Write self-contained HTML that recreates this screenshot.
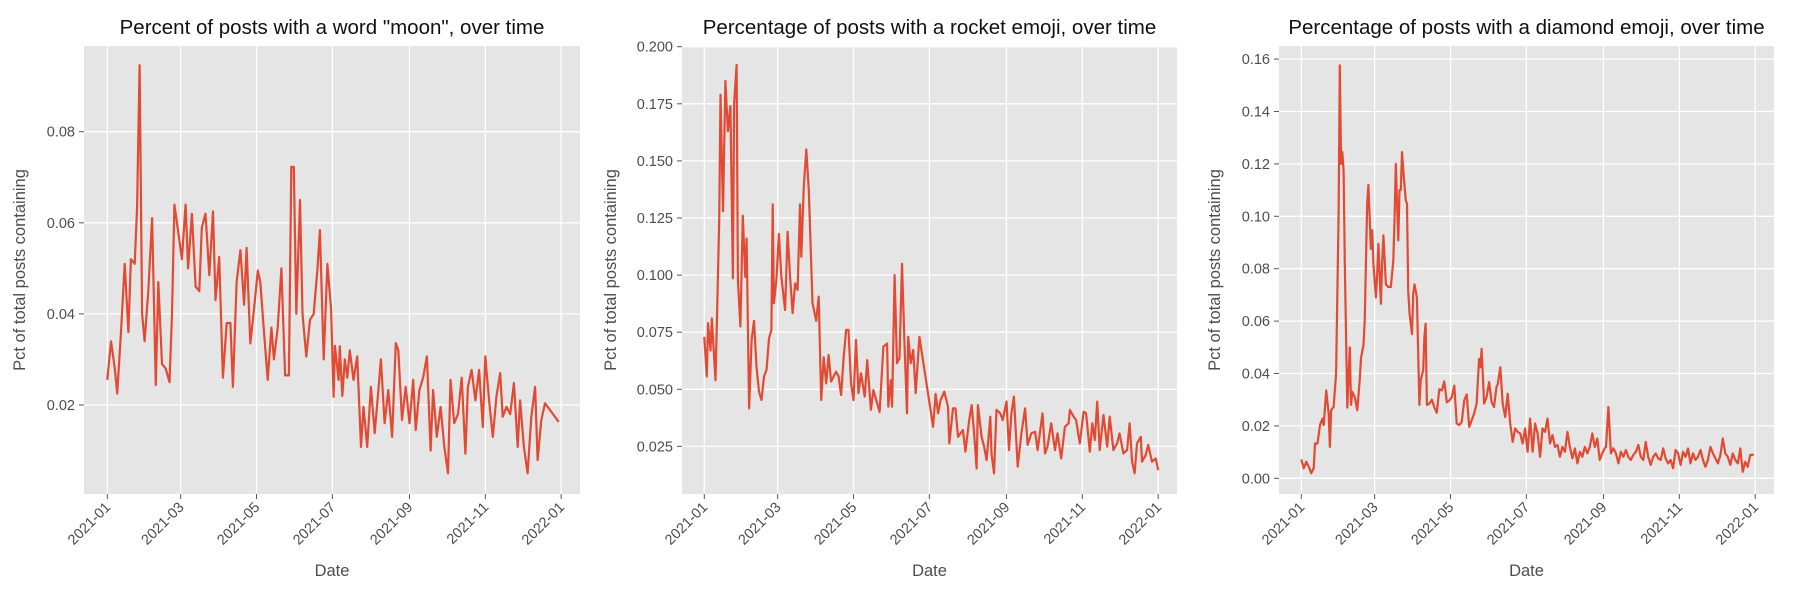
<!DOCTYPE html>
<html><head><meta charset="utf-8">
<style>
html,body{margin:0;padding:0;background:#fff;}
svg{display:block;font-family:"Liberation Sans",sans-serif;}
</style></head>
<body>
<svg id="fig" width="1800" height="600" viewBox="0 0 1800 600" xmlns="http://www.w3.org/2000/svg"></svg>
<script>
// ---------- data ----------
const tickDays = [0,59,120,181,243,304,365];
const tickLabels = ["2021-01","2021-03","2021-05","2021-07","2021-09","2021-11","2022-01"];

const titles = ['Percent of posts with a word "moon", over time','Percentage of posts with a rocket emoji, over time','Percentage of posts with a diamond emoji, over time'];

const moonYTicks = [0.02,0.04,0.06,0.08];
const moonYLabels = ["0.02","0.04","0.06","0.08"];
const moonDays = [0,3,6,8,11,14,17,19,22,24,26,28,30,33,36,39,41,44,47,50,52,54,57,60,63,65,68,71,74,76,79,82,85,87,90,93,96,99,101,104,107,110,112,115,118,121,123,126,129,132,134,137,140,143,146,148,150,152,155,157,160,163,166,169,171,174,177,180,
182,183,186,187,189,191,193,195,
198,201,204,206,209,212,215,218,220,223,226,229,232,234,237,240,243,246,248,251,254,257,260,262,265,268,271,274,276,279,282,285,288,290,293,296,299,302,304,307,310,313,316,318,321,324,327,330,332,335,338,341,344,346,349,352,363];
const moonValues = [0.0255,0.034,0.028,0.0225,0.036,0.051,0.036,0.052,0.051,0.0635,0.0946,0.040,0.034,0.045,0.061,0.0244,0.047,0.029,0.028,0.025,0.040,0.064,0.058,0.052,0.064,0.050,0.062,0.046,0.045,0.059,0.062,0.0485,0.0625,0.043,0.0525,0.026,0.038,0.038,0.024,0.047,0.054,0.042,0.0545,0.0335,0.041,0.0495,0.047,0.036,0.0255,0.037,0.030,0.037,0.050,0.0265,0.0265,0.0723,0.0723,0.040,0.065,0.040,0.0306,0.0387,0.040,0.050,0.0584,0.030,0.051,0.041,
0.0218,0.033,0.0255,0.0329,0.022,0.030,0.026,0.032,
0.0255,0.0307,0.0108,0.0196,0.0108,0.024,0.0138,0.0233,0.030,0.016,0.0233,0.013,0.0336,0.032,0.0167,0.024,0.016,0.0255,0.0145,0.0233,0.026,0.0307,0.0100,0.0233,0.013,0.0196,0.0108,0.005,0.0255,0.016,0.018,0.026,0.0093,0.024,0.0277,0.021,0.0277,0.0152,0.0307,0.021,0.013,0.022,0.027,0.0174,0.0196,0.018,0.0248,0.0108,0.021,0.0108,0.005,0.0174,0.024,0.0079,0.0167,0.0204,0.0163];

const rocketYTicks = [0.025,0.05,0.075,0.1,0.125,0.15,0.175,0.2];
const rocketYLabels = ["0.025","0.050","0.075","0.100","0.125","0.150","0.175","0.200"];
const rocketDays = [0,2,3,5,6,9,10,12,13,15,17,19,21,23,24,26,27,29,31,33,34,36,38,40,42,44,46,48,50,52,54,55,56,58,60,62,65,67,69,71,73,75,77,78,80,82,84,87,90,92,94,96,98,100,102,104,106,108,110,112,114,116,118,120,122,124,126,129,131,134,136,139,141,144,147,148,150,151,153,155,157,159,161,163,164,166,168,170,173,
184,186,188,190,193,196,197,200,202,204,208,210,213,215,217,219,220,223,225,227,230,231,233,235,238,240,243,245,247,249,252,255,258,260,263,266,268,272,274,276,279,282,284,287,290,293,294,297,299,302,305,307,310,312,314,316,318,321,324,326,329,332,334,337,340,342,344,346,348,351,352,355,357,360,363,365];
const rocketValues = [0.073,0.0556,0.079,0.067,0.081,0.054,0.076,0.124,0.179,0.128,0.185,0.163,0.174,0.0986,0.175,0.192,0.0979,0.0775,0.126,0.0992,0.116,0.0417,0.0716,0.080,0.060,0.049,0.0453,0.0556,0.0585,0.0723,0.076,0.131,0.0877,0.0979,0.118,0.099,0.0847,0.119,0.099,0.0833,0.0964,0.0935,0.131,0.108,0.139,0.155,0.137,0.0877,0.080,0.0906,0.0453,0.064,0.0526,0.065,0.0534,0.0556,0.0577,0.0556,0.0475,0.0636,0.076,0.076,0.0526,0.0453,0.0716,0.0483,0.057,0.0468,0.0628,0.041,0.0497,0.0439,0.040,0.0687,0.070,0.0424,0.054,0.0424,0.100,0.0614,0.0636,0.105,0.070,0.0395,0.073,0.0614,0.0672,0.0483,0.073,
0.0336,0.048,0.0395,0.0453,0.049,0.0424,0.0263,0.0417,0.0417,0.0292,0.0322,0.0227,0.0365,0.0431,0.0307,0.0153,0.0431,0.0292,0.0249,0.019,0.038,0.0219,0.0132,0.041,0.0395,0.0365,0.0446,0.0234,0.0395,0.0468,0.0161,0.0307,0.0417,0.0256,0.0307,0.0314,0.0234,0.0395,0.0219,0.0249,0.0351,0.0234,0.0307,0.0197,0.0336,0.0351,0.041,0.038,0.0365,0.0263,0.0402,0.0395,0.0227,0.0351,0.0278,0.0446,0.0234,0.0387,0.0249,0.038,0.0234,0.0263,0.0307,0.0219,0.0234,0.0351,0.0183,0.0132,0.0263,0.0292,0.0183,0.0212,0.0256,0.0183,0.0197,0.0146];

const diamondYTicks = [0,0.02,0.04,0.06,0.08,0.1,0.12,0.14,0.16];
const diamondYLabels = ["0.00","0.02","0.04","0.06","0.08","0.10","0.12","0.14","0.16"];
const diamondDays = [0,2,4,6,8,10,11,13,15,17,18,20,22,23,24,26,28,30,31,32,33,34,35,37,39,40,41,43,45,47,48,50,51,53,54,56,57,58,60,61,62,64,65,66,68,70,72,74,75,76,78,79,80,81,82,84,85,86,87,89,90,91,93,95,96,98,99,100,101,
103,105,107,109,111,113,115,117,119,121,123,125,127,129,131,133,135,137,139,141,143,144,145,147,149,151,153,155,157,158,
160,162,164,166,168,170,172,174,176,178,180,182,184,186,188,190,192,194,196,198,200,202,204,206,208,210,212,214,216,218,220,222,224,226,228,230,232,234,236,238,240,242,244,245,247,
249,251,253,255,257,259,261,263,265,267,269,271,273,275,277,279,281,283,285,287,289,291,293,295,297,299,301,303,305,307,309,311,313,315,317,319,321,323,325,327,329,331,333,335,337,339,341,343,345,347,349,351,353,355,357,359,361,364];
const diamondValues = [0.0072,0.0038,0.0063,0.0044,0.0019,0.0038,0.0133,0.0133,0.0203,0.0228,0.0203,0.0335,0.0247,0.012,0.026,0.0272,0.040,0.101,0.1576,0.12,0.1245,0.1175,0.082,0.027,0.050,0.028,0.033,0.031,0.026,0.0374,0.046,0.051,0.060,0.105,0.112,0.0876,0.0946,0.082,0.069,0.078,0.0895,0.0666,0.082,0.0927,0.074,0.073,0.073,0.083,0.0997,0.12,0.0908,0.11,0.11,0.1245,0.1175,0.106,0.1048,0.0717,0.063,0.055,0.0704,0.074,0.069,0.028,0.0374,0.0413,0.054,0.059,0.028,
0.0285,0.030,0.027,0.025,0.034,0.0335,0.037,0.029,0.0297,0.031,0.0354,0.0209,0.0203,0.0215,0.0297,0.032,0.0196,0.0221,0.0247,0.0285,0.0456,0.0424,0.0494,0.0285,0.031,0.0367,0.0291,0.0272,0.0348,0.036,
0.0424,0.0285,0.0234,0.0323,0.0209,0.0139,0.019,0.0177,0.0171,0.0133,0.019,0.0101,0.0228,0.0101,0.0209,0.0171,0.0082,0.019,0.0177,0.0228,0.0133,0.0165,0.012,0.0127,0.0082,0.012,0.0101,0.0177,0.012,0.0076,0.0114,0.0057,0.0101,0.0082,0.012,0.0095,0.012,0.0171,0.012,0.0152,0.007,0.0095,0.0114,0.012,0.0272,
0.0095,0.0114,0.0095,0.0057,0.0101,0.0082,0.0108,0.0082,0.007,0.0089,0.0101,0.0127,0.0082,0.007,0.0139,0.0082,0.0051,0.0082,0.0095,0.0076,0.007,0.0114,0.0076,0.0057,0.007,0.0038,0.0108,0.0095,0.0051,0.0101,0.0082,0.0114,0.0057,0.0095,0.007,0.0082,0.0108,0.007,0.0044,0.007,0.012,0.0095,0.0076,0.0057,0.0089,0.0152,0.0095,0.0082,0.0051,0.0095,0.007,0.0057,0.0114,0.0025,0.0063,0.0044,0.0089,0.009];

// ---------- drawing ----------
const NS = "http://www.w3.org/2000/svg";
const svg = document.getElementById("fig");
function mk(tag, attrs, parent){ const e=document.createElementNS(NS,tag); for(const k in attrs) e.setAttribute(k,attrs[k]); (parent||svg).appendChild(e); return e; }

const PLOT_TOP = 46, PLOT_BOT = 494;
const panels = [
  {key:"moon", left:84, right:580, x0:107.3, yVal:0.02, yPix:405, scale:4555, yt:moonYTicks, yl:moonYLabels, days:moonDays, vals:moonValues, ylabX:25},
  {key:"rocket", left:682, right:1177, x0:704.3, yVal:0.05, yPix:389.3, scale:2284, yt:rocketYTicks, yl:rocketYLabels, days:rocketDays, vals:rocketValues, ylabX:616},
  {key:"diamond", left:1279, right:1774, x0:1301.3, yVal:0, yPix:478.3, scale:2620, yt:diamondYTicks, yl:diamondYLabels, days:diamondDays, vals:diamondValues, ylabX:1220}
];
const PX_PER_DAY = 1.2435;

panels.forEach((p, i) => {
  const xs = d => p.x0 + d*PX_PER_DAY;
  const ys = v => p.yPix - (v - p.yVal)*p.scale;
  const g = mk("g", {});
  
  
  const bg = mk("rect", {x:p.left, y:PLOT_TOP, width:p.right-p.left, height:PLOT_BOT-PLOT_TOP, fill:"#e5e5e5"}, g);
  
  
  p.yt.forEach((t, j) => {
    const y = ys(t);
    const gl = mk("line", {x1:p.left, x2:p.right, y1:y, y2:y, stroke:"#fff", "stroke-width":1.3}, g);
    
    
    mk("line", {x1:p.left-5, x2:p.left, y1:y, y2:y, stroke:"#555", "stroke-width":1}, g);
    const tl = mk("text", {x:p.left-9, y:y+5, "text-anchor":"end", "font-size":14.5, fill:"#4d4d4d"}, g);
    tl.textContent = p.yl[j];
    
    
  });
  tickDays.forEach((d, j) => {
    const x = xs(d);
    const gl = mk("line", {x1:x, x2:x, y1:PLOT_TOP, y2:PLOT_BOT, stroke:"#fff", "stroke-width":1.3}, g);
    
    
    mk("line", {x1:x, x2:x, y1:PLOT_BOT, y2:PLOT_BOT+5, stroke:"#555", "stroke-width":1}, g);
    const tl = mk("text", {x:x+4, y:PLOT_BOT+14, "text-anchor":"end", "font-size":14.5, fill:"#4d4d4d", transform:`rotate(-45 ${x+4} ${PLOT_BOT+14})`}, g);
    tl.textContent = tickLabels[j];
    
    
  });
  let dstr = "";
  p.days.forEach((d, k) => { dstr += (k ? "L" : "M") + xs(d).toFixed(1) + "," + ys(p.vals[k]).toFixed(1); });
  const ln = mk("path", {d:dstr, fill:"none", stroke:"#E24A33", "stroke-width":2.2, "stroke-linejoin":"round"}, g);
  
  
  const cx = (p.left + p.right)/2;
  const tt = mk("text", {x:cx, y:34, "text-anchor":"middle", "font-size":20.5, fill:"#111"}, g);
  tt.textContent = titles[i];
  
  
  const xl = mk("text", {x:cx, y:576, "text-anchor":"middle", "font-size":16.5, fill:"#4d4d4d"}, g);
  xl.textContent = "Date";
  
  
  const ly = (PLOT_TOP+PLOT_BOT)/2;
  const yl = mk("text", {x:p.ylabX, y:ly, "text-anchor":"middle", "font-size":16.5, fill:"#4d4d4d", transform:`rotate(-90 ${p.ylabX} ${ly})`}, g);
  yl.textContent = "Pct of total posts containing";
  
  
});
</script>
</body></html>
